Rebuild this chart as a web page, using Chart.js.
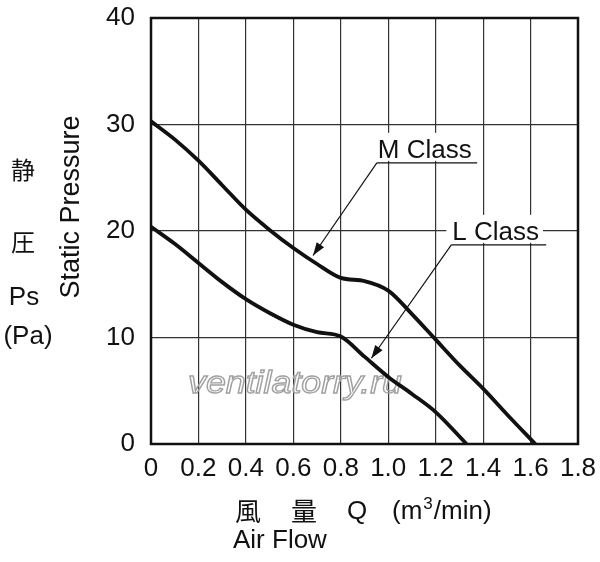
<!DOCTYPE html>
<html lang="ja">
<head>
<meta charset="UTF-8" />
<title>Static Pressure vs Air Flow</title>
<script src="https://cdn.jsdelivr.net/npm/chart.js"></script>
<style>
  html, body { margin: 0; padding: 0; background: #fff; }
  canvas { display: block; }
</style>
</head>
<body>
<canvas id="pq" width="600" height="562"></canvas>
<script>
// values
const flowM = [0, 0.1, 0.2, 0.3, 0.4, 0.5, 0.6, 0.7, 0.8, 0.9, 1.0, 1.1, 1.2, 1.3, 1.4, 1.5, 1.62];
const pressM = [30.3, 28.6, 26.6, 24.3, 22.0, 20.1, 18.4, 16.9, 15.6, 15.3, 14.4, 12.2, 9.8, 7.4, 5.2, 2.8, 0];
const flowL = [0, 0.1, 0.2, 0.3, 0.4, 0.5, 0.6, 0.7, 0.8, 0.9, 1.0, 1.1, 1.2, 1.33];
const pressL = [20.4, 18.8, 17.0, 15.2, 13.6, 12.3, 11.2, 10.5, 10.1, 8.2, 6.3, 4.7, 3.0, 0];
const seriesNames = ["M Class", "L Class"];
const xTicks = [0, 0.2, 0.4, 0.6, 0.8, 1.0, 1.2, 1.4, 1.6, 1.8];
const yTicks = [0, 10, 20, 30, 40];

const FONT = '"Liberation Sans", Arial, "Noto Sans CJK JP", sans-serif';

// callouts: text start, underline end, arrow tip (data units)
const callouts = [
  { text: seriesNames[0], x0: 0.952, x1: 1.375, y: 26.4, tipX: 0.683, tipY: 17.7 },
  { text: seriesNames[1], x0: 1.266, x1: 1.666, y: 18.7, tipX: 0.929, tipY: 8.05 }
];

function pts(xs, ys) {
  return xs.map((x, i) => ({ x: x, y: ys[i] }));
}

function arrow(ctx, x0, y0, x1, y1) {
  ctx.beginPath();
  ctx.moveTo(x0, y0);
  ctx.lineTo(x1, y1);
  ctx.stroke();
  const a = Math.atan2(y1 - y0, x1 - x0);
  const len = 13, w = 4.5;
  ctx.beginPath();
  ctx.moveTo(x1, y1);
  ctx.lineTo(x1 - len * Math.cos(a) + w * Math.sin(a), y1 - len * Math.sin(a) - w * Math.cos(a));
  ctx.lineTo(x1 - len * Math.cos(a) - w * Math.sin(a), y1 - len * Math.sin(a) + w * Math.cos(a));
  ctx.closePath();
  ctx.fill();
}

const overlay = {
  id: "overlay",
  beforeDatasetsDraw(chart) {
    const { ctx, chartArea: a } = chart;
    ctx.save();
    // watermark
    ctx.font = "italic 31px " + FONT;
    ctx.textBaseline = "alphabetic";
    ctx.textAlign = "left";
    const wm = "ventilatorry.ru";
    const w = ctx.measureText(wm).width;
    ctx.translate(188, 393);
    ctx.scale(214 / w, 1);
    ctx.strokeStyle = "#a0a0a0";
    ctx.lineWidth = 1.3;
    ctx.strokeText(wm, 0, 0);
    ctx.restore();

    // frame
    ctx.save();
    ctx.strokeStyle = "#111";
    ctx.lineWidth = 2.5;
    ctx.strokeRect(a.left, a.top, a.right - a.left, a.bottom - a.top);
    ctx.restore();
  },
  afterDatasetsDraw(chart) {
    const { ctx } = chart;
    const xs = chart.scales.x, ys = chart.scales.y;
    ctx.save();
    ctx.font = "26px " + FONT;
    ctx.textAlign = "left";
    ctx.textBaseline = "alphabetic";
    callouts.forEach(c => {
      const px0 = xs.getPixelForValue(c.x0);
      const px1 = xs.getPixelForValue(c.x1);
      const py = ys.getPixelForValue(c.y);
      const tw = ctx.measureText(c.text).width;
      ctx.fillStyle = "#fff";
      ctx.fillRect(px0 - 5, py - 30, tw + 10, 28);
      ctx.fillStyle = "#111";
      ctx.fillText(c.text, px0 + 1, py - 5);
      ctx.strokeStyle = "#111";
      ctx.lineWidth = 1.2;
      ctx.beginPath();
      ctx.moveTo(px0, py);
      ctx.lineTo(px1, py);
      ctx.stroke();
      arrow(ctx, px0, py, xs.getPixelForValue(c.tipX), ys.getPixelForValue(c.tipY));
    });
    ctx.restore();
  },
  afterDraw(chart) {
    const { ctx } = chart;
    ctx.save();
    ctx.fillStyle = "#111";
    ctx.font = "27px " + FONT;
    ctx.textBaseline = "alphabetic";

    // y title
    ctx.save();
    ctx.translate(79, 207);
    ctx.rotate(-Math.PI / 2);
    ctx.textAlign = "center";
    ctx.fillText("Static Pressure", 0, 0);
    ctx.restore();

    ctx.textAlign = "center";
    ctx.font = "24px " + FONT;
    ctx.fillText("静", 23, 179);
    ctx.fillText("圧", 23, 251);
    ctx.font = "26px " + FONT;
    ctx.fillText("Ps", 24, 305);
    ctx.fillText("(Pa)", 28, 344);

    // x title
    ctx.textAlign = "left";
    ctx.font = "26px " + FONT;
    ctx.fillText("風", 235, 521);
    ctx.fillText("量", 291, 521);
    ctx.fillText("Q", 347, 519);
    let x = 392;
    ctx.fillText("(m", x, 519);
    x += ctx.measureText("(m").width + 1;
    ctx.font = "17px " + FONT;
    ctx.fillText("3", x, 509);
    x += ctx.measureText("3").width + 1;
    ctx.font = "26px " + FONT;
    ctx.fillText("/min)", x, 519);
    ctx.fillText("Air Flow", 233, 548);
    ctx.restore();
  }
};

const curve = {
  borderColor: "#111",
  borderWidth: 3.8,
  pointRadius: 0,
  fill: false,
  cubicInterpolationMode: "monotone"
};

new Chart(document.getElementById("pq").getContext("2d"), {
  type: "line",
  data: {
    datasets: [
      Object.assign({ label: seriesNames[0], data: pts(flowM, pressM) }, curve),
      Object.assign({ label: seriesNames[1], data: pts(flowL, pressL) }, curve)
    ]
  },
  options: {
    responsive: false,
    animation: false,
    layout: { padding: { top: 18, right: 22, left: 0, bottom: 0 } },
    plugins: { legend: { display: false }, tooltip: { enabled: false } },
    scales: {
      x: {
        type: "linear",
        min: 0,
        max: 1.8,
        afterFit: s => { s.height = 118; s.paddingLeft = 0; s.paddingRight = 0; },
        afterBuildTicks: s => { s.ticks = xTicks.map(v => ({ value: v })); },
        border: { display: false },
        grid: { color: "#333", lineWidth: 1.2, drawTicks: false },
        ticks: {
          color: "#111",
          padding: 9,
          maxRotation: 0,
          font: { family: FONT, size: 26 },
          callback: v => (v === 0 ? "0" : v.toFixed(1))
        }
      },
      y: {
        min: 0,
        max: 40,
        afterFit: s => { s.width = 151; s.paddingTop = 0; s.paddingBottom = 0; },
        afterBuildTicks: s => { s.ticks = yTicks.map(v => ({ value: v })); },
        border: { display: false },
        grid: { color: "#333", lineWidth: 1.2, drawTicks: false },
        ticks: {
          color: "#111",
          padding: 16,
          font: { family: FONT, size: 26 }
        }
      }
    }
  },
  plugins: [overlay]
});
</script>
</body>
</html>
